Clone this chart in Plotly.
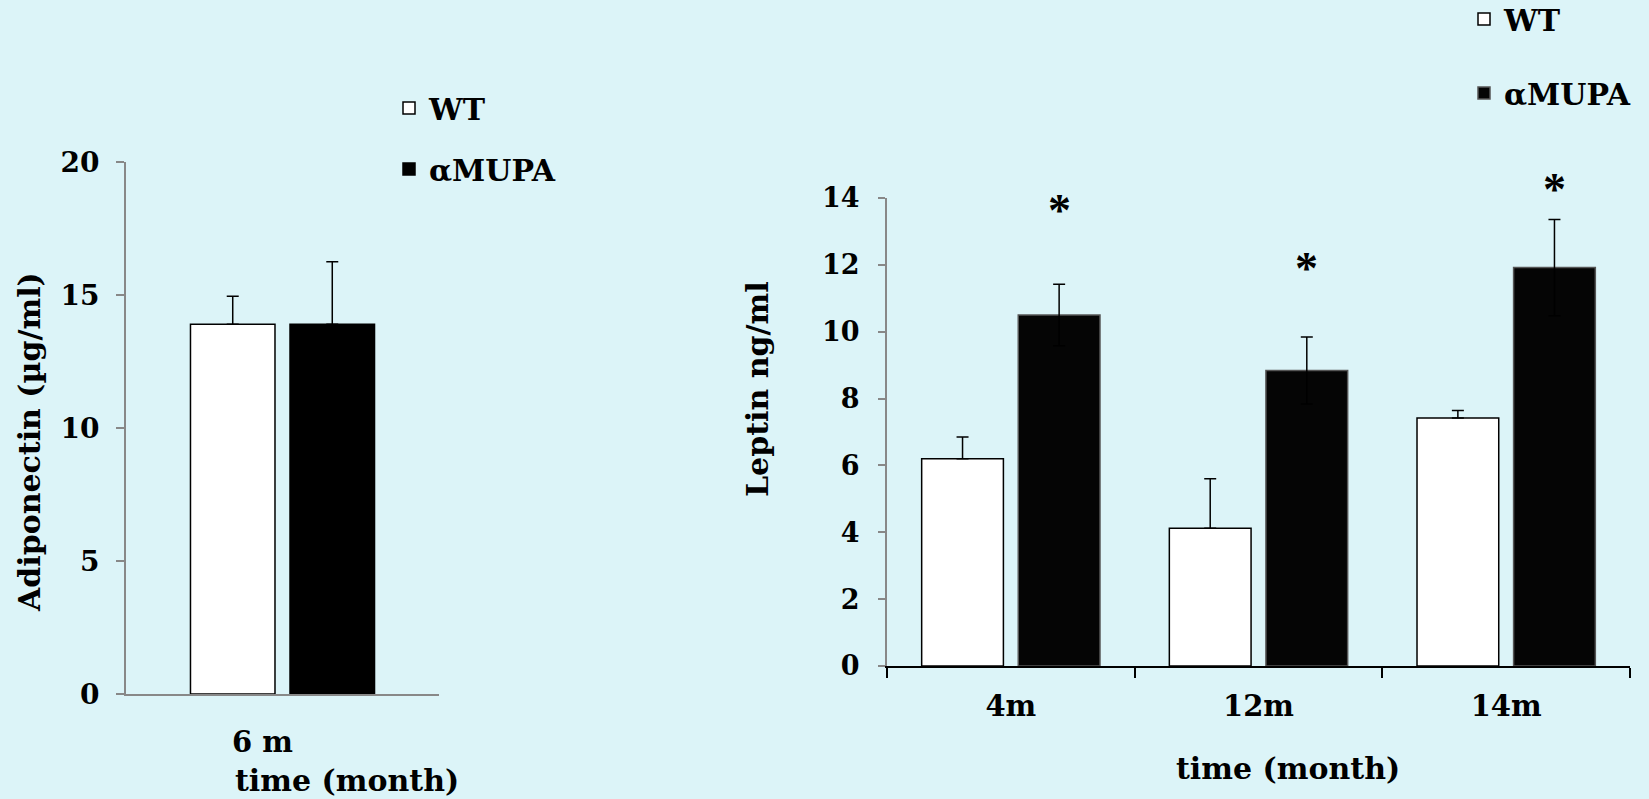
import plotly.graph_objects as go

# ---- data ----
left_cats = ["6 m"]
left_wt = [13.9]
left_wt_err = [1.05]
left_mupa = [13.9]
left_mupa_err = [2.35]

right_cats = ["4m", "12m", "14m"]
right_wt = [6.2, 4.12, 7.42]
right_wt_err = [0.65, 1.48, 0.22]
right_mupa = [10.5, 8.84, 11.92]
right_mupa_err = [0.92, 1.0, 1.44]
star_y = [13.8, 12.06, 14.42]
star_text = ["*", "*", "*"]

BG = "#dcf4f8"
SERIF = "DejaVu Serif"

W, H = 1649, 799
def px(x): return x / W
def py(y): return 1 - y / H

MUPA_OFF, BAR_W = 0.03, 0.33
Y2_BOTTOM, Y2_TOP, Y2_MAX = 666, 198, 14

fig = go.Figure()
eb_kw = dict(color="black", thickness=1.5, width=6)

fig.add_trace(go.Bar(x=left_cats, y=left_wt, name="WT", xaxis="x", yaxis="y",
                     width=0.27, offset=-0.294,
                     marker=dict(color="white", line=dict(color="black", width=1.5)),
                     error_y=dict(type="data", array=left_wt_err, arrayminus=[0], symmetric=False, **eb_kw),
                     legend="legend", legendgroup="a"))
fig.add_trace(go.Bar(x=left_cats, y=left_mupa, name="αMUPA", xaxis="x", yaxis="y",
                     width=0.27, offset=0.024,
                     marker=dict(color="black", line=dict(color="black", width=1.5)),
                     error_y=dict(type="data", array=left_mupa_err, arrayminus=[0], symmetric=False, **eb_kw),
                     legend="legend", legendgroup="b"))
fig.add_trace(go.Bar(x=right_cats, y=right_wt, name="WT", xaxis="x2", yaxis="y2",
                     width=BAR_W, offset=-0.36,
                     marker=dict(color="white", line=dict(color="black", width=1.5)),
                     error_y=dict(type="data", array=right_wt_err, arrayminus=[0, 0, 0], symmetric=False, **eb_kw),
                     legend="legend2", legendgroup="c"))
fig.add_trace(go.Bar(x=right_cats, y=right_mupa, name="αMUPA", xaxis="x2", yaxis="y2",
                     width=BAR_W, offset=MUPA_OFF,
                     marker=dict(color="#050505", line=dict(color="#555555", width=1.5)),
                     error_y=dict(type="data", array=right_mupa_err, **eb_kw),
                     legend="legend2", legendgroup="d"))

def font(size):
    return dict(family=SERIF, size=size, color="black", weight="bold")

fig.update_layout(
    width=W, height=H,
    margin=dict(l=0, r=0, t=0, b=0, autoexpand=False),
    paper_bgcolor=BG, plot_bgcolor="rgba(0,0,0,0)",
    barmode="overlay",
    xaxis=dict(domain=[px(126), px(439)], anchor="y", range=[-0.5, 0.5], automargin=False,
               showline=True, linecolor="#888888", linewidth=2, ticks="",
               showgrid=False, zeroline=False, tickfont=font(29),
               ticklabelshift=-20, ticklabelstandoff=21),
    yaxis=dict(domain=[py(694), py(162)], anchor="x", range=[0, 20], dtick=5, automargin=False,
               showline=True, linecolor="#888888", linewidth=2, ticks="outside",
               tickcolor="#888888", ticklen=8, tickwidth=2,
               showgrid=False, zeroline=False, tickfont=font(28), ticklabelstandoff=11),
    xaxis2=dict(domain=[px(887), px(1630)], anchor="y2", range=[-0.5, 2.5], automargin=False,
                showline=True, linecolor="black", linewidth=2, ticks="outside",
                tickson="boundaries", ticklen=10, tickwidth=1.5, tickcolor="black",
                showgrid=False, zeroline=False, tickfont=font(29), ticklabelstandoff=13),
    yaxis2=dict(domain=[py(Y2_BOTTOM), py(Y2_TOP)], anchor="x2", range=[0, Y2_MAX], dtick=2, automargin=False,
                showline=True, linecolor="#888888", linewidth=2, ticks="outside",
                tickcolor="#888888", ticklen=7, tickwidth=2,
                showgrid=False, zeroline=False, tickfont=font(27), ticklabelstandoff=13),
    # invisible helper axes sharing the leptin scale but reaching the top of the page (for the stars)
    xaxis3=dict(domain=[px(887), px(1630)], anchor="y3", range=[-0.5, 2.5],
                visible=False, automargin=False),
    yaxis3=dict(domain=[py(Y2_BOTTOM), 1], anchor="x3",
                range=[0, Y2_MAX * Y2_BOTTOM / (Y2_BOTTOM - Y2_TOP)],
                visible=False, automargin=False),
    legend=dict(x=px(389), y=py(82), xanchor="left", yanchor="top",
                bgcolor="rgba(0,0,0,0)", traceorder="grouped", tracegroupgap=19,
                font=font(30), itemwidth=30),
    legend2=dict(x=px(1464), y=py(-7), xanchor="left", yanchor="top",
                 bgcolor="rgba(0,0,0,0)", traceorder="grouped", tracegroupgap=32,
                 font=font(30), itemwidth=30),
    showlegend=True,
)

annotations = [
    dict(text="Adiponectin (µg/ml)", x=px(29), y=py(442), xref="paper", yref="paper",
         xanchor="center", yanchor="middle", textangle=-90, showarrow=False, font=font(30)),
    dict(text="time (month)", x=px(233), y=py(780), xref="paper", yref="paper",
         xanchor="left", yanchor="middle", showarrow=False, font=font(30)),
    dict(text="Leptin ng/ml", x=px(757), y=py(389), xref="paper", yref="paper",
         xanchor="center", yanchor="middle", textangle=-90, showarrow=False, font=font(30)),
    dict(text="time (month)", x=px(1288), y=py(768), xref="paper", yref="paper",
         xanchor="center", yanchor="middle", showarrow=False, font=font(30)),
]
# significance stars above the αMUPA bars (category index + bar centre offset)
for i, (sy, st) in enumerate(zip(star_y, star_text)):
    annotations.append(dict(text=st, x=i + MUPA_OFF + BAR_W / 2, y=sy, xref="x3", yref="y3",
                            xanchor="center", yanchor="middle", yshift=-6, showarrow=False,
                            font=dict(family="Liberation Serif", size=46, color="black", weight="bold")))
fig.update_layout(annotations=annotations)

fig.write_html("out.html")
